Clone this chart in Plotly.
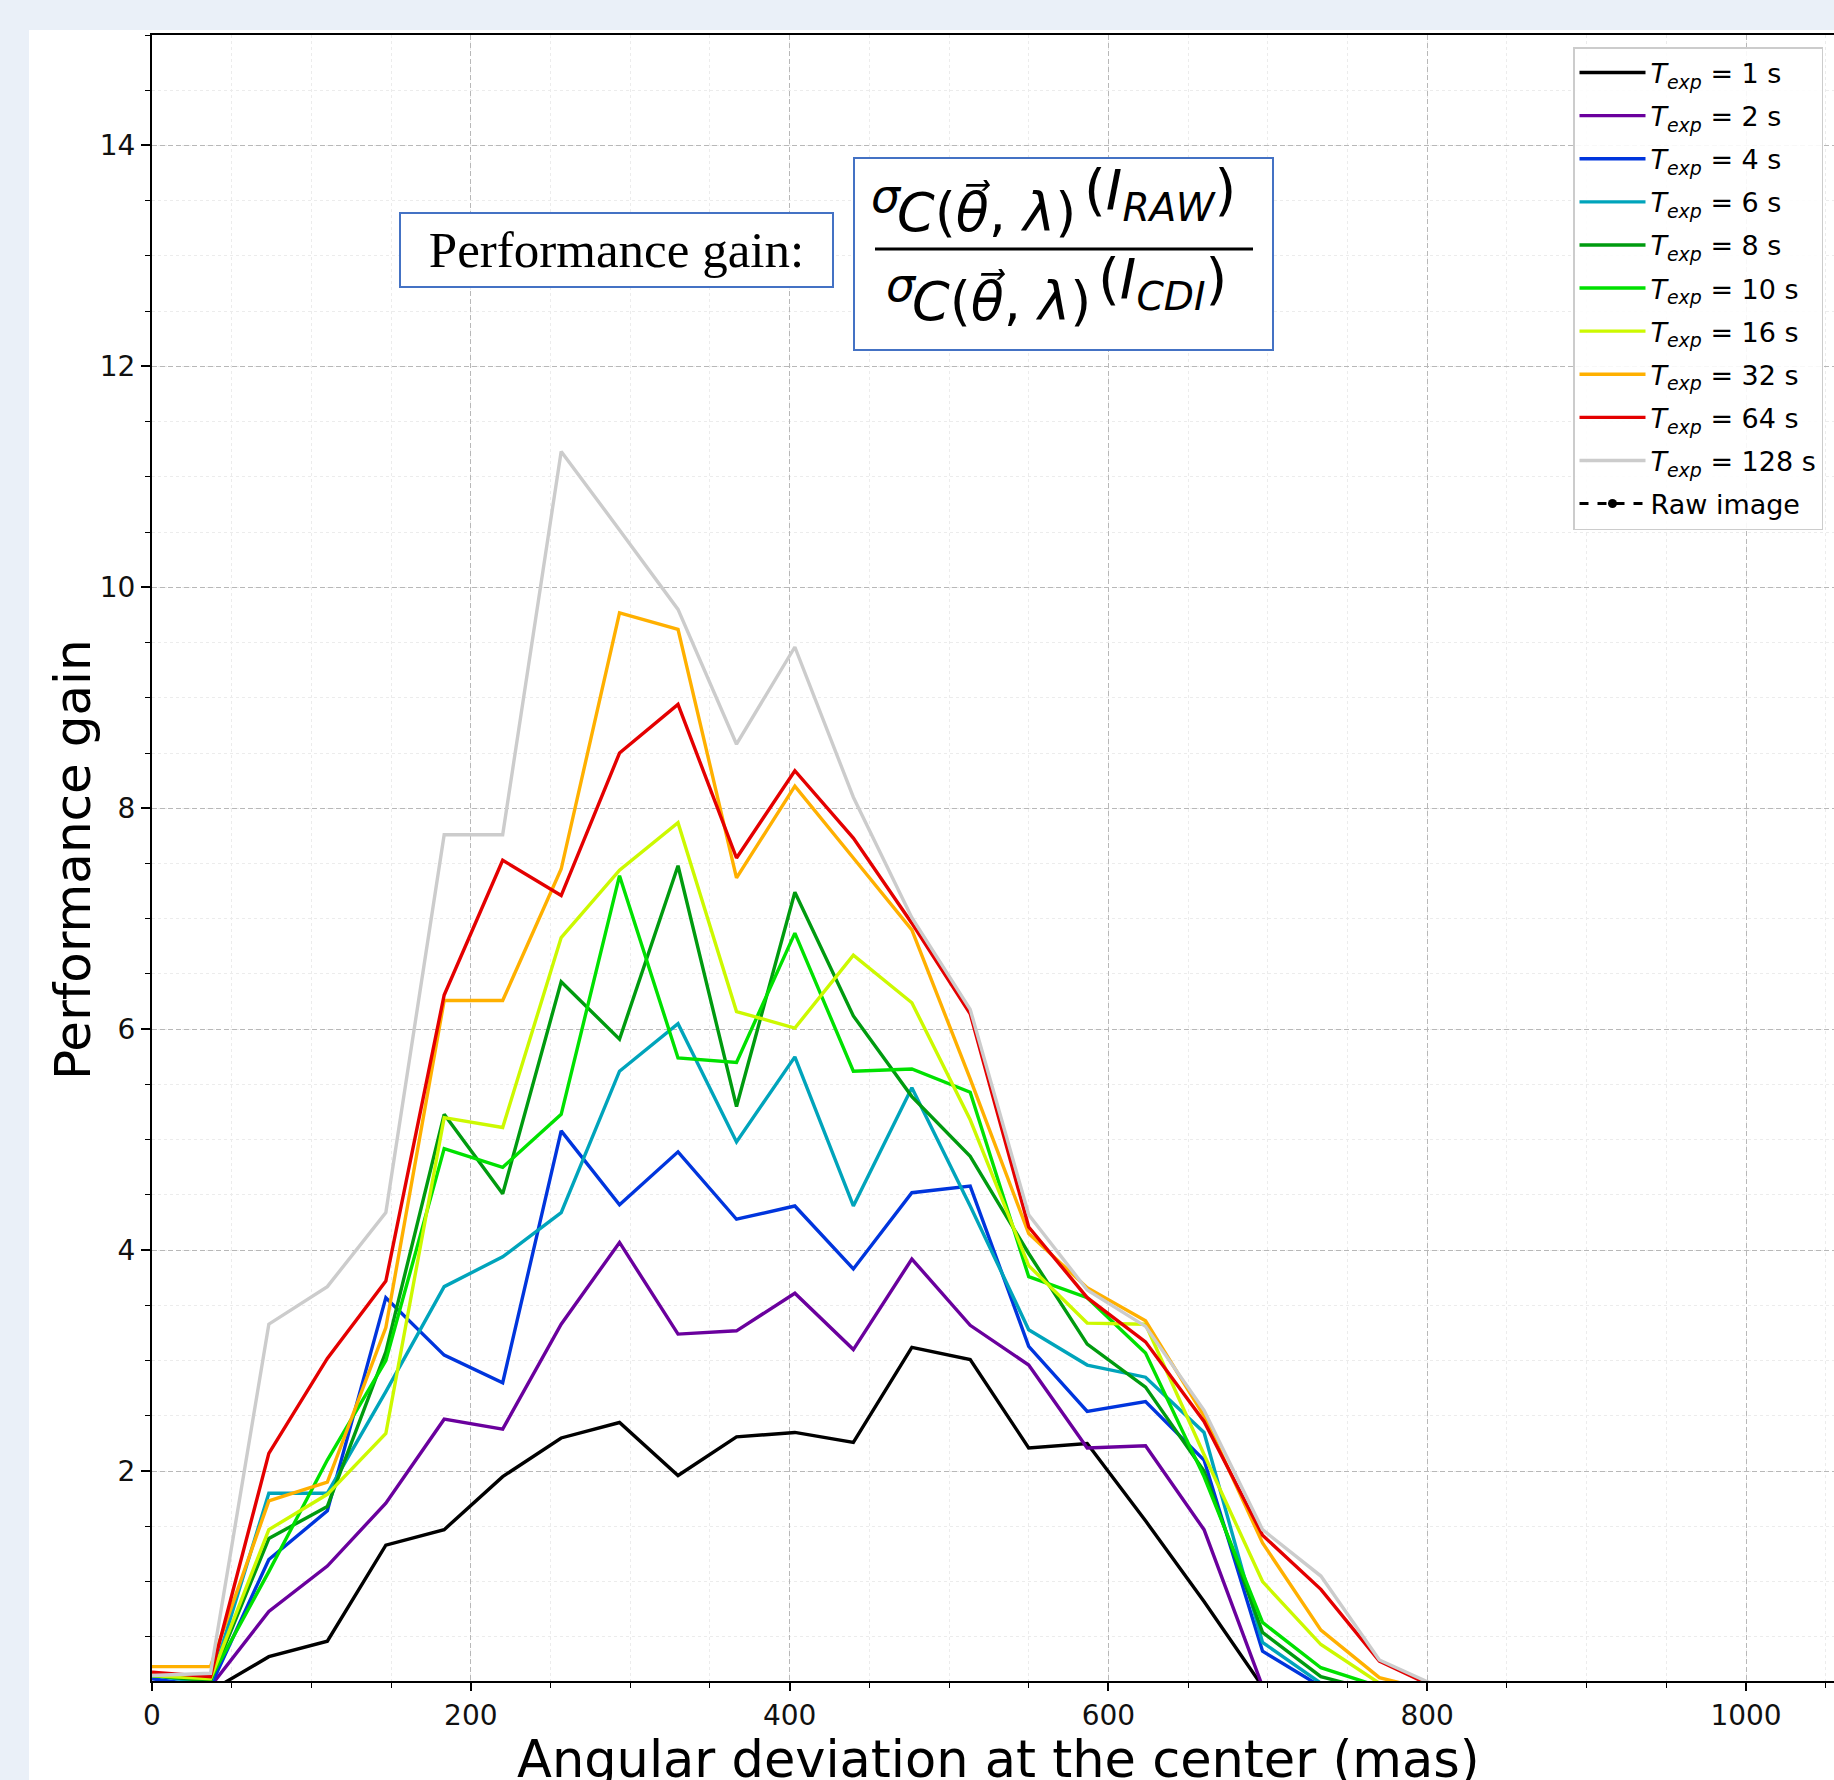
import plotly.graph_objects as go

# ---------------- data ----------------
x_mas = [0.0, 36.7, 73.3, 110.0, 146.7, 183.3, 220.0, 256.7, 293.3, 330.0, 366.7, 403.3,
         440.0, 476.7, 513.3, 550.0, 586.7, 623.3, 660.0, 696.7, 733.3, 770.0, 806.7, 843.3]

gain_1s   = [0.05, 0.01, 0.32, 0.46, 1.33, 1.47, 1.95, 2.30, 2.44, 1.96, 2.31, 2.35,
             2.26, 3.12, 3.01, 2.21, 2.25, 1.55, 0.82, 0.05, 0.0, 0.0, 0.0, 0.0]
gain_2s   = [0.08, 0.05, 0.73, 1.14, 1.71, 2.47, 2.38, 3.33, 4.07, 3.24, 3.27, 3.61,
             3.10, 3.92, 3.32, 2.96, 2.21, 2.23, 1.47, 0.05, 0.0, 0.0, 0.0, 0.0]
gain_4s   = [0.12, 0.05, 1.20, 1.64, 3.57, 3.05, 2.80, 5.08, 4.41, 4.89, 4.28, 4.40,
             3.83, 4.52, 4.58, 3.13, 2.54, 2.63, 2.10, 0.37, 0.05, 0.0, 0.0, 0.0]
gain_6s   = [0.15, 0.08, 1.80, 1.80, 2.72, 3.67, 3.94, 4.34, 5.62, 6.05, 4.98, 5.75,
             4.40, 5.47, 4.40, 3.28, 2.96, 2.85, 2.35, 0.45, 0.08, 0.0, 0.0, 0.0]
gain_8s   = [0.15, 0.10, 1.39, 1.68, 3.08, 5.23, 4.51, 6.43, 5.91, 7.48, 5.30, 7.24,
             6.12, 5.39, 4.85, 3.97, 3.15, 2.76, 2.00, 0.54, 0.14, 0.0, 0.0, 0.0]
gain_10s  = [0.15, 0.12, 1.09, 2.10, 3.00, 4.92, 4.75, 5.23, 7.39, 5.74, 5.70, 6.87,
             5.62, 5.64, 5.43, 3.76, 3.57, 3.07, 1.95, 0.63, 0.22, 0.05, 0.0, 0.0]
gain_16s  = [0.15, 0.12, 1.47, 1.79, 2.34, 5.20, 5.11, 6.83, 7.44, 7.87, 6.16, 6.01,
             6.67, 6.24, 5.18, 3.86, 3.34, 3.33, 2.15, 1.00, 0.43, 0.08, 0.0, 0.0]
gain_32s  = [0.23, 0.23, 1.73, 1.90, 3.30, 6.26, 6.26, 7.45, 9.77, 9.62, 7.37, 8.20,
             7.55, 6.90, 5.55, 4.15, 3.66, 3.36, 2.50, 1.35, 0.56, 0.13, 0.0, 0.0]
gain_64s  = [0.18, 0.14, 2.16, 3.02, 3.72, 6.31, 7.53, 7.21, 8.50, 8.94, 7.55, 8.34,
             7.73, 6.96, 6.14, 4.21, 3.57, 3.17, 2.45, 1.42, 0.93, 0.28, 0.03, 0.0]
gain_128s = [0.15, 0.17, 3.33, 3.67, 4.34, 7.76, 7.76, 11.23, 10.52, 9.80, 8.58, 9.46,
             8.10, 7.01, 6.18, 4.32, 3.64, 3.31, 2.55, 1.47, 1.05, 0.29, 0.05, 0.0]

exposure_labels = ["1", "2", "4", "6", "8", "10", "16", "32", "64", "128"]
series = [gain_1s, gain_2s, gain_4s, gain_6s, gain_8s, gain_10s, gain_16s,
          gain_32s, gain_64s, gain_128s]
raw_image_x = [None]
raw_image_y = [None]

x_ticks = [0, 200, 400, 600, 800, 1000]
y_ticks = [2, 4, 6, 8, 10, 12, 14]

# nipy_spectral samples
colors = ["#000000", "#6a009d", "#0035dd", "#00a4bb", "#009b0f",
          "#00e100", "#ccf900", "#ffb000", "#e40000", "#cccccc"]

# ---------------- geometry helpers (pixel -> paper) ----------------
W_FIG, H_FIG = 1834, 1780
L, R, T, B = 152, 0, 35, 99
PW = W_FIG - L - R
PH = H_FIG - T - B
BG_FRAME = "#eaf0f8"


def px(xp):
    return (xp - L) / PW


def py(yp):
    return (H_FIG - B - yp) / PH


fig = go.Figure()

for i, (lab, vals) in enumerate(zip(exposure_labels, series)):
    fig.add_trace(go.Scatter(
        x=x_mas, y=vals, mode="lines",
        line=dict(color=colors[i], width=3.4),
        name="<i>T</i><sub><i>exp</i></sub> = %s s" % lab,
        legendgroup="g%d" % i,
    ))

fig.add_trace(go.Scatter(
    x=raw_image_x, y=raw_image_y, mode="lines+markers",
    line=dict(color="black", width=3, dash="dash"),
    marker=dict(color="black", size=9),
    name="Raw image", legendgroup="raw",
))

FONT = "DejaVu Sans"

shapes = [
    # white page area (light-blue frame visible at top and left)
    dict(type="rect", xref="paper", yref="paper", layer="below",
         x0=px(29), x1=1.0, y0=py(H_FIG), y1=py(30),
         fillcolor="white", line=dict(width=0)),
    # formula box
    dict(type="rect", xref="paper", yref="paper", layer="above",
         x0=px(854), x1=px(1273), y0=py(350), y1=py(158),
         fillcolor="white", line=dict(color="#4472c4", width=2)),
    # fraction bar
    dict(type="line", xref="paper", yref="paper", layer="above",
         x0=px(875), x1=px(1253), y0=py(249), y1=py(249),
         line=dict(color="black", width=3)),
]

annotations = [
    dict(text="Performance gain:", xref="paper", yref="paper",
         x=px(616), y=py(250), xanchor="center", yanchor="middle",
         width=431, height=72, borderpad=0, borderwidth=2,
         bordercolor="#4472c4", bgcolor="white", showarrow=False,
         font=dict(family="Liberation Serif", size=51, color="black")),
    # axis titles (placed as annotations for exact position)
    dict(text="Performance gain", xref="paper", yref="paper",
         x=px(73), y=py(860), xanchor="center", yanchor="middle",
         textangle=-90, showarrow=False,
         font=dict(family=FONT, size=50, color="black")),
    dict(text="Angular deviation at the center (mas)", xref="paper", yref="paper",
         x=px(998), y=py(1760), xanchor="center", yanchor="middle",
         showarrow=False,
         font=dict(family=FONT, size=51, color="black")),
]


def ann(text, xp, yp, size):
    annotations.append(dict(text=text, xref="paper", yref="paper",
                            x=px(xp), y=py(yp), xanchor="center", yanchor="middle",
                            showarrow=False,
                            font=dict(family=FONT, size=size, color="black")))


# numerator
ann("<i>σ</i>", 886, 196, 46)
ann("<i>C</i>(<i>θ\u20d7</i>, <i>λ</i>)", 986, 211, 54)
ann("(<i>I</i><sub><i>RAW</i></sub>)", 1160, 193, 56)
# denominator
ann("<i>σ</i>", 901, 285, 46)
ann("<i>C</i>(<i>θ\u20d7</i>, <i>λ</i>)", 1001, 300, 54)
ann("(<i>I</i><sub><i>CDI</i></sub>)", 1162, 282, 56)

grid_major = "#b8b8b8"
grid_minor = "#ececec"

fig.update_layout(
    width=W_FIG, height=H_FIG,
    margin=dict(l=L, r=R, t=T, b=B, autoexpand=False),
    paper_bgcolor=BG_FRAME,
    plot_bgcolor="white",
    font=dict(family=FONT, color="black"),
    showlegend=True,
    legend=dict(x=px(1573), y=py(47), xanchor="left", yanchor="top",
                bgcolor="rgba(255,255,255,0.9)", bordercolor="#cccccc", borderwidth=1.5,
                font=dict(family=FONT, size=27, color="black"),
                itemwidth=66,
                tracegroupgap=5, traceorder="grouped"),
    shapes=shapes,
    annotations=annotations,
    xaxis=dict(
        range=[0, PW / 1.594], tickmode="array", tickvals=x_ticks,
        ticktext=[str(v) for v in x_ticks],
        showline=True, linecolor="black", linewidth=2, mirror=True,
        ticks="outside", ticklen=8, tickwidth=1.5, tickcolor="black",
        tickfont=dict(family=FONT, size=28, color="#111111"),
        showgrid=True, gridcolor=grid_major, gridwidth=1, griddash="5px,3px",
        zeroline=False, automargin=False,
        minor=dict(dtick=50, tick0=0, ticks="outside", ticklen=5, tickwidth=1,
                   tickcolor="black", showgrid=True, gridcolor=grid_minor,
                   gridwidth=1, griddash="dot"),
    ),
    yaxis=dict(
        range=[0.1, 15.0], tickmode="array", tickvals=y_ticks,
        ticktext=[str(v) for v in y_ticks],
        showline=True, linecolor="black", linewidth=2, mirror=False,
        ticks="outside", ticklen=9, tickwidth=1.5, tickcolor="black",
        tickfont=dict(family=FONT, size=28, color="#111111"),
        showgrid=True, gridcolor=grid_major, gridwidth=1, griddash="5px,3px",
        zeroline=False, automargin=False,
        minor=dict(dtick=0.5, tick0=0, ticks="outside", ticklen=5, tickwidth=1,
                   tickcolor="black", showgrid=True, gridcolor=grid_minor,
                   gridwidth=1, griddash="dot"),
    ),
)

fig.write_html(
    "out.html",
    config={"displayModeBar": False},
    post_script=("document.body.style.margin='0';"
                 "document.body.style.padding='0';"
                 "document.body.style.background='%s';" % BG_FRAME),
)
